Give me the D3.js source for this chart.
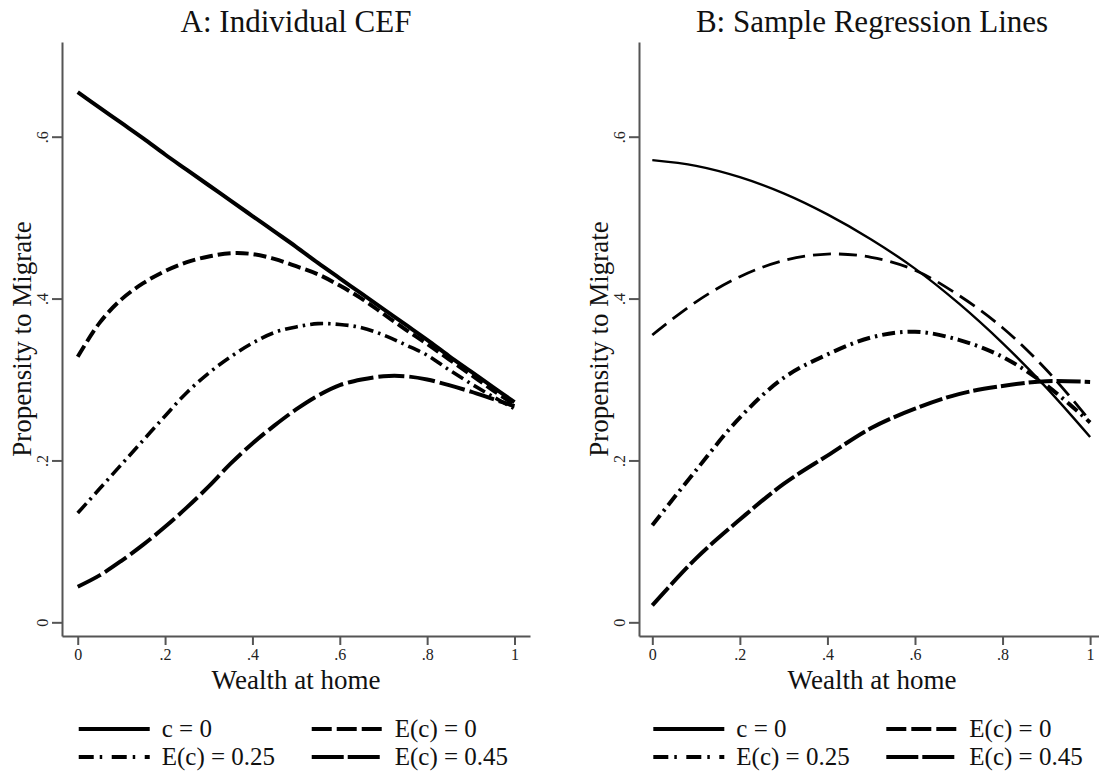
<!DOCTYPE html>
<html>
<head>
<meta charset="utf-8">
<script src="https://cdn.jsdelivr.net/npm/d3@7"></script>
<style>
  body { margin: 0; background: #fff; }
  svg { display: block; }
  svg text { font-family: "Liberation Serif", "Times New Roman", "DejaVu Serif", serif; }
</style>
</head>
<body>
<svg id="chart" width="1099" height="773"></svg>
<script>
// ---- data ----
const wealthA = [0, 0.05, 0.1, 0.15, 0.2, 0.25, 0.3, 0.35, 0.4, 0.45, 0.5,
                 0.55, 0.6, 0.65, 0.7, 0.75, 0.8, 0.85, 0.9, 0.95, 1]
const cefC0   = [0.655, 0.636, 0.617, 0.598, 0.578, 0.559, 0.540, 0.521, 0.502, 0.483, 0.464,
                 0.444, 0.425, 0.406, 0.387, 0.368, 0.349, 0.329, 0.310, 0.291, 0.272]
const cefE0   = [0.328, 0.370, 0.399, 0.419, 0.434, 0.445, 0.452, 0.456, 0.455, 0.449, 0.440,
                 0.430, 0.416, 0.400, 0.381, 0.362, 0.344, 0.325, 0.306, 0.287, 0.269]
const cefE25  = [0.135, 0.165, 0.195, 0.225, 0.255, 0.284, 0.308, 0.328, 0.345, 0.358, 0.365,
                 0.369, 0.368, 0.364, 0.355, 0.343, 0.330, 0.312, 0.295, 0.279, 0.264]
const cefE45  = [0.044, 0.058, 0.076, 0.096, 0.118, 0.142, 0.168, 0.196, 0.221, 0.243, 0.263,
                 0.280, 0.293, 0.300, 0.304, 0.304, 0.300, 0.293, 0.285, 0.276, 0.267]

const wealthB = [0, 0.1, 0.2, 0.3, 0.4, 0.5, 0.6, 0.7, 0.8, 0.9, 1]
const regC0   = [0.571, 0.564, 0.550, 0.530, 0.504, 0.473, 0.437, 0.394, 0.345, 0.290, 0.229]
const regE0   = [0.355, 0.396, 0.427, 0.447, 0.455, 0.451, 0.435, 0.404, 0.364, 0.312, 0.249]
const regE25  = [0.120, 0.188, 0.253, 0.302, 0.331, 0.352, 0.359, 0.349, 0.328, 0.293, 0.247]
const regE45  = [0.021, 0.079, 0.127, 0.171, 0.206, 0.240, 0.264, 0.282, 0.292, 0.298, 0.297]

const xTicks = [0, 0.2, 0.4, 0.6, 0.8, 1]
const xTickLabels = ["0", ".2", ".4", ".6", ".8", "1"]
const yTicks = [0, 0.2, 0.4, 0.6]
const yTickLabels = ["0", ".2", ".4", ".6"]
const legendLabels = ["c = 0", "E(c) = 0", "E(c) = 0.25", "E(c) = 0.45"]
const panelTitles = ["A: Individual CEF", "B: Sample Regression Lines"]
const xTitle = "Wealth at home"
const yTitle = "Propensity to Migrate"

// ---- layout ----
const serif = "'Liberation Serif', 'Times New Roman', 'DejaVu Serif', serif"
const panels = [
    {title: panelTitles[0], x: wealthA, series: [cefC0, cefE0, cefE25, cefE45],
     xDomain: [-0.036, 1.0355], xRange: [62, 530],
     widths: [4, 4, 3.6, 4], dashes: ["", "13 5", "13 5 2.5 5", "26 5"]},
    {title: panelTitles[1], x: wealthB, series: [regC0, regE0, regE25, regE45],
     xDomain: [-0.0304, 1.034], xRange: [639, 1105],
     widths: [2.4, 2.8, 4, 4], dashes: ["", "18 8", "13 5 2.5 5", "24 4"]}
]
const legendDash = ["", "20 5", "15 6 2.5 9.5", "32 4"]

const y = d3.scaleLinear().domain([-0.0169, 0.717]).range([636, 42])

const svg = d3.select("#chart")

panels.forEach(p => {
    const x = d3.scaleLinear().domain(p.xDomain).range(p.xRange)
    const g = svg.append("g")
    const mid = (p.xRange[0] + p.xRange[1]) / 2

    // axes
    const xAxis = g.append("g")
        .attr("transform", `translate(0,${y.range()[0]})`)
        .call(d3.axisBottom(x).tickValues(xTicks)
            .tickFormat((d, i) => xTickLabels[i])
            .tickSize(9).tickSizeOuter(0).tickPadding(4))
    const yAxis = g.append("g")
        .attr("transform", `translate(${p.xRange[0]},0)`)
        .call(d3.axisLeft(y).tickValues(yTicks)
            .tickFormat((d, i) => yTickLabels[i])
            .tickSize(10).tickSizeOuter(0))
    yAxis.selectAll(".tick text")
        .attr("transform", "rotate(-90)")
        .attr("x", 0).attr("y", -14).attr("dy", 0)
        .attr("text-anchor", "middle")

    ;[xAxis, yAxis].forEach(a => {
        a.attr("font-family", serif).attr("font-size", null)
        a.selectAll("path, line").attr("stroke", "#555").attr("stroke-width", 2)
        a.selectAll("text").attr("font-size", 16).attr("fill", "#222")
            .attr("font-family", serif)
    })

    // titles
    g.append("text")
        .attr("x", mid).attr("y", 32)
        .attr("text-anchor", "middle")
        .attr("font-family", serif)
        .attr("font-size", 31).attr("fill", "#111")
        .text(p.title)
    g.append("text")
        .attr("x", mid).attr("y", 689)
        .attr("text-anchor", "middle")
        .attr("font-family", serif)
        .attr("font-size", 27).attr("fill", "#111")
        .text(xTitle)
    g.append("text")
        .attr("transform", `translate(${p.xRange[0] - 31},339) rotate(-90)`)
        .attr("text-anchor", "middle")
        .attr("font-family", serif)
        .attr("font-size", 27).attr("fill", "#111")
        .text(yTitle)

    // curves
    const line = d3.line()
        .x((d, i) => x(p.x[i]))
        .y(d => y(d))
        .curve(d3.curveCatmullRom)

    g.selectAll(".curve")
        .data(p.series)
        .enter()
        .append("path")
            .attr("class", "curve")
            .attr("d", line)
            .attr("fill", "none")
            .attr("stroke", "#000")
            .attr("stroke-width", (d, i) => p.widths[i])
            .attr("stroke-dasharray", (d, i) => p.dashes[i] || null)

    // legend
    const x0 = x(0)
    const items = g.append("g").selectAll("g")
        .data(legendLabels)
        .enter()
        .append("g")
        .attr("transform", (d, i) => `translate(${x0 + (i % 2) * 233},${i < 2 ? 729 : 757})`)
    items.append("line")
        .attr("x1", 1).attr("x2", 72)
        .attr("stroke", "#000").attr("stroke-width", 4)
        .attr("stroke-dasharray", (d, i) => legendDash[i] || null)
    items.append("text")
        .attr("x", 84).attr("y", 8)
        .attr("font-family", serif)
        .attr("font-size", 25).attr("fill", "#111")
        .text(d => d)
})
</script>
</body>
</html>
